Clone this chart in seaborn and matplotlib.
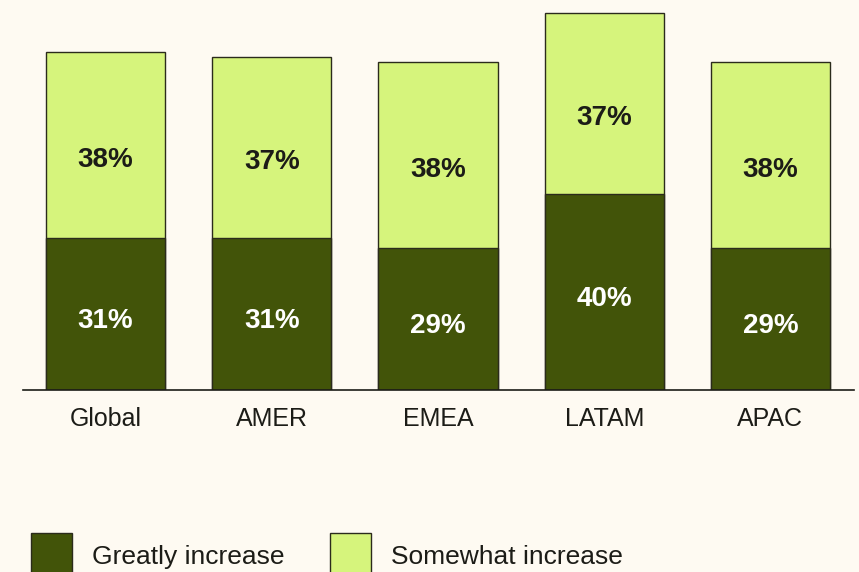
import matplotlib
matplotlib.use("Agg")
import matplotlib.pyplot as plt
from matplotlib.patches import Patch
import pandas as pd
import seaborn as sns

# ====================
# DATOS
# ====================
regions = ["Global", "AMER", "EMEA", "LATAM", "APAC"]
greatly = [31, 31, 29, 40, 29]
somewhat = [38, 37, 38, 37, 38]

df = pd.DataFrame({"Region": regions, "Greatly": greatly, "Somewhat": somewhat})
df["Total"] = df["Greatly"] + df["Somewhat"]

# ====================
# ESTILO
# ====================
bg = "#FEFAF2"
dark = "#425409"
light = "#D6F47C"
edge = "#2B2B1C"
ink = "#1C1C17"

sns.set_theme(style="white")
plt.rcParams["font.family"] = ["Liberation Sans", "DejaVu Sans"]

fig = plt.figure(figsize=(8.59, 5.72), dpi=100, facecolor=bg)
ax = fig.add_axes([22.5 / 859, 182 / 572, 831 / 859, 382 / 572])
ax.set_facecolor(bg)

# barras: total (claro) primero, luego la parte oscura encima
sns.barplot(data=df, x="Region", y="Total", ax=ax, color=light, saturation=1,
            width=0.717, edgecolor=edge, linewidth=1)
sns.barplot(data=df, x="Region", y="Greatly", ax=ax, color=dark, saturation=1,
            width=0.717, edgecolor=edge, linewidth=1)

ax.set_xlim(-0.5, len(regions) - 0.5)
ax.set_ylim(0, 78)

# etiquetas de porcentaje
for i, row in df.iterrows():
    ax.text(i, row["Greatly"] / 2 - 1.5, f"{row['Greatly']}%", ha="center", va="center",
            color="white", fontsize=20, fontweight="bold")
    ax.text(i, row["Greatly"] + row["Somewhat"] / 2 - 3, f"{row['Somewhat']}%",
            ha="center", va="center", color=ink, fontsize=20, fontweight="bold")

ax.set_xlabel("")
ax.set_ylabel("")
ax.set_yticks([])
ax.tick_params(axis="x", length=0, pad=12, labelsize=18, labelcolor=ink)
for s in ["top", "right", "left"]:
    ax.spines[s].set_visible(False)
ax.spines["bottom"].set_color(ink)
ax.spines["bottom"].set_linewidth(1.2)

# leyenda
handles = [Patch(facecolor=dark, edgecolor=edge, linewidth=1, label="Greatly increase"),
           Patch(facecolor=light, edgecolor=edge, linewidth=1, label="Somewhat increase")]
fig.legend(handles=handles, loc="upper left", bbox_to_anchor=(31 / 859, 1 - 533 / 572),
           ncol=2, frameon=False, fontsize=19, handlelength=1.55, handleheight=2.3,
           handletextpad=0.75, columnspacing=1.75, borderpad=0, borderaxespad=0,
           labelcolor=ink)

fig.savefig("out.png", dpi=100, facecolor=bg)
